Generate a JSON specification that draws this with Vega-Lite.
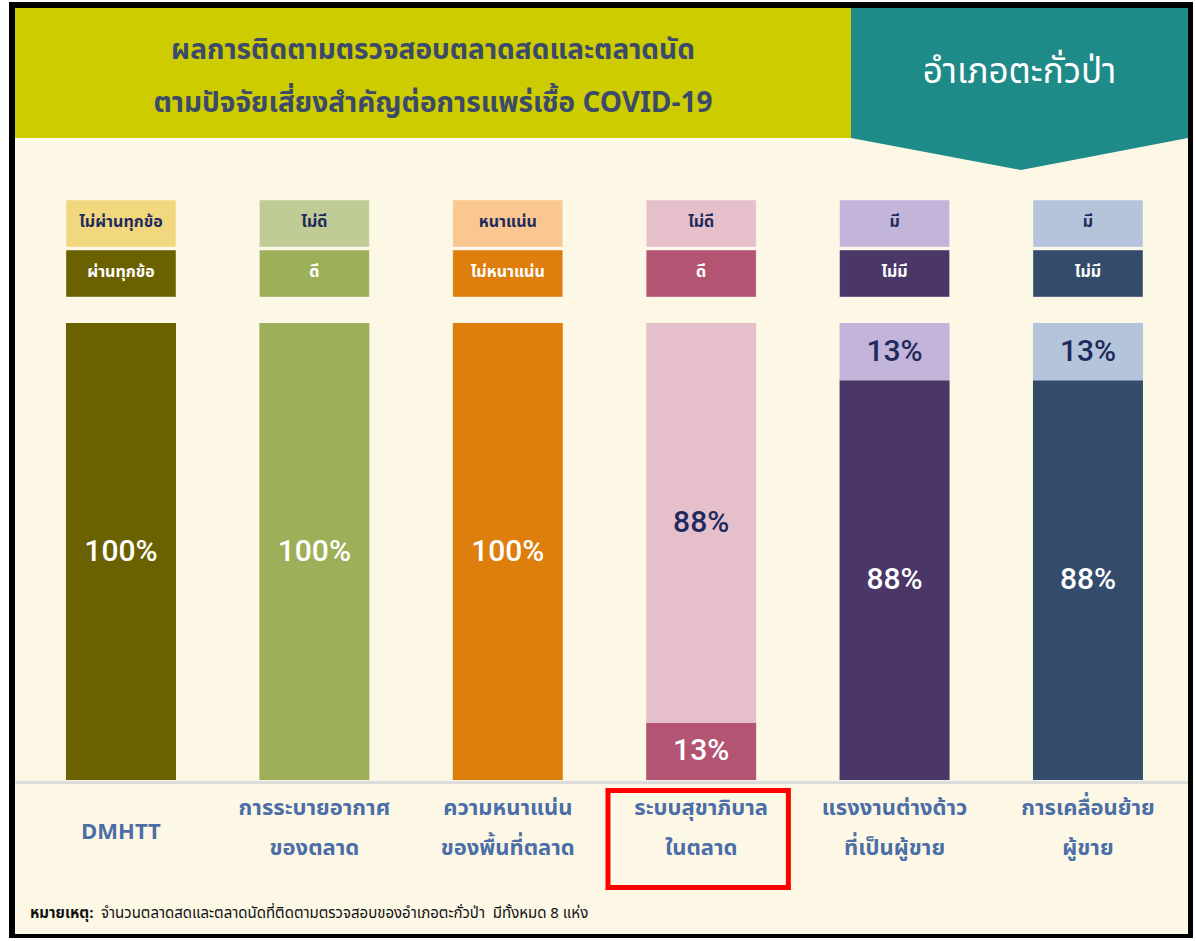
{
  "$schema": "https://vega.github.io/schema/vega-lite/v6.json",
  "background": "#FFFFFF",
  "padding": {"left": 9, "top": 2, "right": 3, "bottom": 3},
  "bounds": "flush",
  "config": {
    "view": {"fill": "#FDF7E6", "stroke": null},
    "font": "Noto Sans Thai, Noto Sans, sans-serif",
    "concat": {"spacing": 0}
  },
  "datasets": {
    "seg": [
      {"cat": "DMHTT", "tone": "dark", "key": "c1-dark", "name": "ผ่านทุกข้อ", "pct": 100, "label": "100%"},
      {"cat": "DMHTT", "tone": "light", "key": "c1-light", "name": "ไม่ผ่านทุกข้อ", "pct": 0, "label": "0%"},
      {"cat": "การระบายอากาศของตลาด", "tone": "dark", "key": "c2-dark", "name": "ดี", "pct": 100, "label": "100%"},
      {"cat": "การระบายอากาศของตลาด", "tone": "light", "key": "c2-light", "name": "ไม่ดี", "pct": 0, "label": "0%"},
      {"cat": "ความหนาแน่นของพื้นที่ตลาด", "tone": "dark", "key": "c3-dark", "name": "ไม่หนาแน่น", "pct": 100, "label": "100%"},
      {"cat": "ความหนาแน่นของพื้นที่ตลาด", "tone": "light", "key": "c3-light", "name": "หนาแน่น", "pct": 0, "label": "0%"},
      {"cat": "ระบบสุขาภิบาลในตลาด", "tone": "dark", "key": "c4-dark", "name": "ดี", "pct": 12.5, "label": "13%"},
      {"cat": "ระบบสุขาภิบาลในตลาด", "tone": "light", "key": "c4-light", "name": "ไม่ดี", "pct": 87.5, "label": "88%"},
      {"cat": "แรงงานต่างด้าวที่เป็นผู้ขาย", "tone": "dark", "key": "c5-dark", "name": "ไม่มี", "pct": 87.5, "label": "88%"},
      {"cat": "แรงงานต่างด้าวที่เป็นผู้ขาย", "tone": "light", "key": "c5-light", "name": "มี", "pct": 12.5, "label": "13%"},
      {"cat": "การเคลื่อนย้ายผู้ขาย", "tone": "dark", "key": "c6-dark", "name": "ไม่มี", "pct": 87.5, "label": "88%"},
      {"cat": "การเคลื่อนย้ายผู้ขาย", "tone": "light", "key": "c6-light", "name": "มี", "pct": 12.5, "label": "13%"}
    ],
    "cats": [
      {"cat": "DMHTT", "xlabel": "DMHTT", "highlight": false},
      {"cat": "การระบายอากาศของตลาด", "xlabel": "การระบายอากาศ\nของตลาด", "highlight": false},
      {"cat": "ความหนาแน่นของพื้นที่ตลาด", "xlabel": "ความหนาแน่น\nของพื้นที่ตลาด", "highlight": false},
      {"cat": "ระบบสุขาภิบาลในตลาด", "xlabel": "ระบบสุขาภิบาล\nในตลาด", "highlight": true},
      {"cat": "แรงงานต่างด้าวที่เป็นผู้ขาย", "xlabel": "แรงงานต่างด้าว\nที่เป็นผู้ขาย", "highlight": false},
      {"cat": "การเคลื่อนย้ายผู้ขาย", "xlabel": "การเคลื่อนย้าย\nผู้ขาย", "highlight": false}
    ]
  },
  "spacing": 0,
  "vconcat": [
    {
      "width": 1173,
      "height": 162,
      "data": {"values": [{"title": "ผลการติดตามตรวจสอบตลาดสดและตลาดนัด\nตามปัจจัยเสี่ยงสำคัญต่อการแพร่เชื้อ COVID-19", "district": "อำเภอตะกั่วป่า"}]},
      "layer": [
        {"mark": {"type": "rect", "color": "#FDF7E6"}, "encoding": {}},
        {
          "mark": {"type": "point", "shape": "M-1,-0.138107L0.425405,-0.138107L0.425405,0.083546L-1,0.083546Z", "size": 1375929, "filled": true, "color": "#CCCC00", "opacity": 1, "strokeWidth": 0},
          "encoding": {}
        },
        {
          "mark": {"type": "point", "shape": "M0.425405,-0.138107L1,-0.138107L1,0.083546L0.71526,0.138107L0.425405,0.083546Z", "size": 1375929, "filled": true, "color": "#1F8B88", "opacity": 1, "strokeWidth": 0},
          "encoding": {}
        },
        {
          "mark": {"type": "text", "lineBreak": "\n", "lineHeight": 53, "fontSize": 28, "fontWeight": "bold", "color": "#3B4A6B", "baseline": "middle", "dx": -168.5, "dy": -38},
          "encoding": {"text": {"field": "title"}}
        },
        {
          "mark": {"type": "text", "fontSize": 35, "color": "#FFFFFF", "baseline": "middle", "dx": 418, "dy": -17},
          "encoding": {"text": {"field": "district"}}
        }
      ]
    },
    {
      "width": 1173,
      "height": 153,
      "data": {"name": "seg"},
      "layer": [
        {
          "mark": {"type": "bar", "stroke": "#FFFFFF", "strokeOpacity": 0.4, "strokeWidth": 1},
          "encoding": {
            "x": {"field": "cat", "type": "nominal", "axis": null, "sort": null, "scale": {"domain": ["DMHTT", "การระบายอากาศของตลาด", "ความหนาแน่นของพื้นที่ตลาด", "ระบบสุขาภิบาลในตลาด", "แรงงานต่างด้าวที่เป็นผู้ขาย", "การเคลื่อนย้ายผู้ขาย"], "paddingInner": 0.4312, "paddingOuter": 0.2482, "align": 0.531}},
            "y": {"field": "tone", "type": "nominal", "axis": null, "scale": {"domain": ["light", "dark"], "paddingInner": 0.06, "paddingOuter": 0.56, "align": 0.536}},
            "color": {"field": "key", "type": "nominal", "legend": null, "scale": {"domain": ["c1-dark", "c1-light", "c2-dark", "c2-light", "c3-dark", "c3-light", "c4-dark", "c4-light", "c5-dark", "c5-light", "c6-dark", "c6-light"], "range": ["#6B6100", "#F1D77E", "#9EAF59", "#C0CC95", "#DD7E0D", "#F9C78F", "#B35472", "#E5C0CB", "#4B3668", "#C3B4D9", "#344B6B", "#B4C4DB"]}}
          }
        },
        {
          "mark": {"type": "text", "fontSize": 16, "fontWeight": "bold", "baseline": "middle", "dy": -2},
          "encoding": {
            "x": {"field": "cat", "type": "nominal", "axis": null, "sort": null},
            "y": {"field": "tone", "type": "nominal", "axis": null},
            "text": {"field": "name"},
            "color": {"condition": {"test": "datum.tone === 'dark'", "value": "#FFFFFF"}, "value": "#1F2A5C"}
          }
        }
      ]
    },
    {
      "width": 1173,
      "height": 457,
      "data": {"name": "seg"},
      "transform": [{"filter": "datum.pct > 0"}],
      "layer": [
        {
          "mark": {"type": "bar"},
          "encoding": {
            "x": {"field": "cat", "type": "nominal", "axis": null, "sort": null, "scale": {"domain": ["DMHTT", "การระบายอากาศของตลาด", "ความหนาแน่นของพื้นที่ตลาด", "ระบบสุขาภิบาลในตลาด", "แรงงานต่างด้าวที่เป็นผู้ขาย", "การเคลื่อนย้ายผู้ขาย"], "paddingInner": 0.4312, "paddingOuter": 0.2482, "align": 0.531}},
            "y": {"field": "pct", "type": "quantitative", "stack": "zero", "axis": null, "scale": {"domain": [0, 100], "nice": false}},
            "color": {"field": "key", "type": "nominal", "legend": null, "scale": {"domain": ["c1-dark", "c1-light", "c2-dark", "c2-light", "c3-dark", "c3-light", "c4-dark", "c4-light", "c5-dark", "c5-light", "c6-dark", "c6-light"], "range": ["#6B6100", "#F1D77E", "#9EAF59", "#C0CC95", "#DD7E0D", "#F9C78F", "#B35472", "#E5C0CB", "#4B3668", "#C3B4D9", "#344B6B", "#B4C4DB"]}},
            "order": {"field": "tone", "type": "ordinal"}
          }
        },
        {
          "mark": {"type": "text", "fontSize": 30, "font": "Roboto", "fontWeight": 500, "baseline": "middle"},
          "encoding": {
            "x": {"field": "cat", "type": "nominal", "axis": null, "sort": null},
            "y": {"field": "pct", "type": "quantitative", "stack": "zero", "bandPosition": 0.5, "axis": null},
            "detail": {"field": "tone"},
            "order": {"field": "tone", "type": "ordinal"},
            "text": {"field": "label"},
            "color": {"condition": {"test": "datum.tone === 'dark'", "value": "#FFFFFF"}, "value": "#1F2A5C"}
          }
        }
      ]
    },
    {
      "width": 1173,
      "height": 112,
      "data": {"name": "cats"},
      "layer": [
        {
          "transform": [{"filter": "datum.highlight"}],
          "mark": {"type": "bar", "width": {"band": 1.64}, "xOffset": -3, "fillOpacity": 0, "stroke": "#FF0000", "strokeWidth": 5},
          "encoding": {
            "x": {"field": "cat", "type": "nominal", "sort": null, "axis": {"orient": "top", "domain": true, "domainColor": "#DCDCDC", "domainWidth": 3, "ticks": false, "labels": false, "grid": false, "title": null, "offset": -2}, "scale": {"domain": ["DMHTT", "การระบายอากาศของตลาด", "ความหนาแน่นของพื้นที่ตลาด", "ระบบสุขาภิบาลในตลาด", "แรงงานต่างด้าวที่เป็นผู้ขาย", "การเคลื่อนย้ายผู้ขาย"], "paddingInner": 0.4312, "paddingOuter": 0.2482, "align": 0.531}},
            "y": {"datum": "box", "type": "nominal", "axis": null, "scale": {"paddingInner": 0, "paddingOuter": 0.0773, "align": 0.7}}
          }
        },
        {
          "transform": [{"filter": "indexof(datum.xlabel, '\\n') >= 0"}],
          "mark": {"type": "text", "lineBreak": "\n", "lineHeight": 40, "fontSize": 22, "fontWeight": "bold", "color": "#4B6EA6", "baseline": "middle", "dy": -28},
          "encoding": {
            "x": {"field": "cat", "type": "nominal", "sort": null, "axis": {"orient": "top", "domain": true, "domainColor": "#DCDCDC", "domainWidth": 3, "ticks": false, "labels": false, "grid": false, "title": null, "offset": -2}},
            "text": {"field": "xlabel"}
          }
        },
        {
          "transform": [{"filter": "indexof(datum.xlabel, '\\n') < 0"}],
          "mark": {"type": "text", "fontSize": 22, "fontWeight": "bold", "color": "#4B6EA6", "baseline": "middle", "dy": -4},
          "encoding": {
            "x": {"field": "cat", "type": "nominal", "sort": null, "axis": {"orient": "top", "domain": true, "domainColor": "#DCDCDC", "domainWidth": 3, "ticks": false, "labels": false, "grid": false, "title": null, "offset": -2}},
            "text": {"field": "xlabel"}
          }
        }
      ]
    },
    {
      "width": 1173,
      "height": 42,
      "data": {"values": [{"a": "หมายเหตุ:", "b": "จำนวนตลาดสดและตลาดนัดที่ติดตามตรวจสอบของอำเภอตะกั่วป่า\u00a0\u00a0มีทั้งหมด 8 แห่ง"}]},
      "layer": [
        {"mark": {"type": "rect", "color": "#FDF7E6"}, "encoding": {}},
        {
          "mark": {"type": "text", "align": "left", "baseline": "middle", "fontSize": 15, "fontWeight": "bold", "color": "#111111", "x": 15},
          "encoding": {"text": {"field": "a"}}
        },
        {
          "mark": {"type": "text", "align": "left", "baseline": "middle", "fontSize": 15, "color": "#111111", "x": 86},
          "encoding": {"text": {"field": "b"}}
        },
        {
          "mark": {"type": "point", "shape": "M-0.5925,-0.911L0.5915,-0.911L0.5915,0.025L-0.5925,0.025ZM-0.5865,-0.905L-0.5865,0.021L0.5865,0.021L0.5865,-0.905Z", "size": 4000000, "filled": true, "color": "#000000", "opacity": 1, "strokeWidth": 0},
          "encoding": {}
        }
      ]
    }
  ]
}
